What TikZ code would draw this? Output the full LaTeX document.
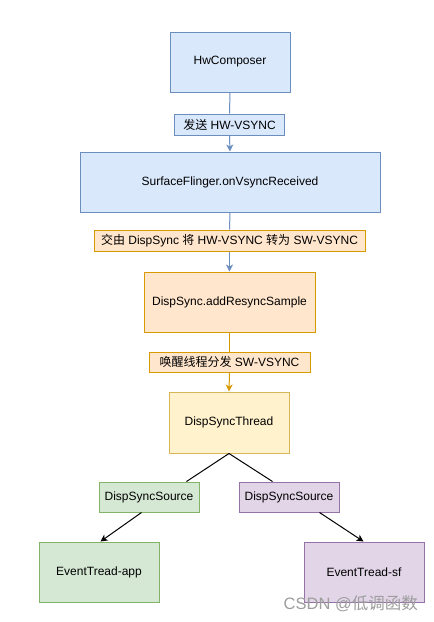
\documentclass[tikz,border=0pt]{standalone}
\usepackage{fontspec}
\setmainfont{Liberation Sans}
\newfontfamily\cjk{Noto Sans CJK SC}
\usetikzlibrary{arrows.meta,calc}
\definecolor{bfill}{HTML}{DAE8FC}\definecolor{bdraw}{HTML}{6C8EBF}
\definecolor{ofill}{HTML}{FFE6CC}\definecolor{odraw}{HTML}{D79B00}
\definecolor{yfill}{HTML}{FFF2CC}\definecolor{ydraw}{HTML}{D6B656}
\definecolor{gfill}{HTML}{D5E8D4}\definecolor{gdraw}{HTML}{82B366}
\definecolor{pfill}{HTML}{E1D5E7}\definecolor{pdraw}{HTML}{9673A6}
\tikzset{
  box/.style={draw, line width=1pt, inner sep=0pt, font=\fontsize{12}{14}\selectfont, align=center},
  bluebox/.style={box, fill=bfill, draw=bdraw},
  orangebox/.style={box, fill=ofill, draw=odraw},
  yellowbox/.style={box, fill=yfill, draw=ydraw},
  greenbox/.style={box, fill=gfill, draw=gdraw},
  purplebox/.style={box, fill=pfill, draw=pdraw},
  tip/.style={-{Stealth[length=7pt,width=7pt,inset=2pt]}},
  conn/.style={line width=1pt},
}
\begin{document}
\begin{tikzpicture}[x=1pt,y=-1pt]
\useasboundingbox (0,0) rectangle (434,622);
\fill[white] (0,0) rectangle (434,622);
% main column
\node[bluebox, minimum width=120pt, minimum height=60pt] (hw) at (230,62) {HwComposer};
\node[bluebox, minimum width=300pt, minimum height=60pt] (sf) at (230,182) {SurfaceFlinger.onVsyncReceived};
\node[orangebox, minimum width=171pt, minimum height=60pt] (add) at (229.5,302) {DispSync.addResyncSample};
\node[yellowbox, minimum width=120pt, minimum height=61pt] (thr) at (229,422.5) {DispSyncThread};
% labels
\node[bluebox, minimum width=110pt, minimum height=21pt] (l1) at (229.5,124.5) {{\cjk 发送} HW-VSYNC};
\node[orangebox, minimum width=271pt, minimum height=21pt] (l2) at (229.5,240.5) {{\cjk 交由} DispSync {\cjk 将} HW-VSYNC {\cjk 转为} SW-VSYNC};
\node[orangebox, minimum width=161pt, minimum height=20pt] (l3) at (229.5,362) {{\cjk 唤醒线程分发} SW-VSYNC};
% sources
\node[greenbox, minimum width=100pt, minimum height=30pt] (ds1) at (149,497) {DispSyncSource};
\node[purplebox, minimum width=100pt, minimum height=30pt] (ds2) at (289,497) {DispSyncSource};
\node[greenbox, minimum width=120pt, minimum height=60pt] (app) at (99,572) {EventTread-app};
\node[purplebox, minimum width=120pt, minimum height=60pt] (sfe) at (364,572) {EventTread-sf};
% connectors
\draw[conn, bdraw] (hw.south) -- (l1.north);
\draw[conn, bdraw, tip] (l1.south) -- (sf.north);
\draw[conn, bdraw] (sf.south) -- (l2.north);
\draw[conn, bdraw, tip] (l2.south) -- (add.north);
\draw[conn, odraw] (add.south) -- (l3.north);
\draw[conn, odraw, tip] (l3.south) -- (thr.north);
\coordinate (a1) at ($(ds1.north east)+(-13,0)$);
\coordinate (a2) at ($(ds2.north west)+(34,0)$);
\coordinate (b1) at ($(ds1.south west)+(43,0)$);
\coordinate (c1) at ($(app.north west)+(62,0)$);
\coordinate (b2) at ($(ds2.south west)+(81,0)$);
\coordinate (c2) at ($(sfe.north west)+(60,0)$);
\draw[conn, black] (thr.south) -- (a1);
\draw[conn, black] (thr.south) -- (a2);
\draw[conn, black, tip] (b1) -- (c1);
\draw[conn, black, tip] (b2) -- (c2);
% watermark
\node[text=black!38, font=\fontsize{16.5}{18}\selectfont, anchor=east, inner sep=0pt] (wm) at (418,604) {CSDN @{\cjk 低调函数}};
\end{tikzpicture}
\end{document}
